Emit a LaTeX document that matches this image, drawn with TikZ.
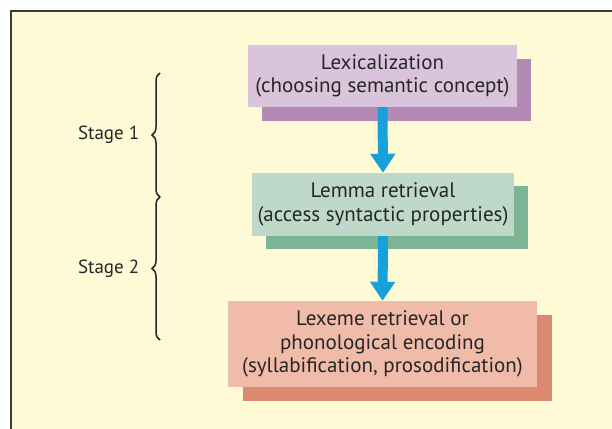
\documentclass[tikz,border=0pt]{standalone}
\usepackage{fontspec}
\setmainfont{PT Sans}
\usetikzlibrary{arrows.meta,shadows,decorations.pathreplacing}

\definecolor{cream}{RGB}{255,250,214}
\definecolor{framegray}{RGB}{60,60,60}
\definecolor{lexfill}{RGB}{218,196,219}
\definecolor{lexshade}{RGB}{178,138,179}
\definecolor{lemfill}{RGB}{190,217,201}
\definecolor{lemshade}{RGB}{125,181,148}
\definecolor{phonfill}{RGB}{241,187,170}
\definecolor{phonshade}{RGB}{221,137,112}
\definecolor{flowblue}{RGB}{24,160,216}

\tikzset{
  stagebox/.style={inner sep=0pt, align=center, font=\fontsize{21}{23.5}\selectfont,
    text=black!85},
  stagelabel/.style={inner sep=0pt, font=\fontsize{19}{22}\selectfont, text=black!85},
  flow/.style={draw=flowblue, line width=10pt,
    -{Triangle[width=24pt,length=19pt]}},
  stagebrace/.style={decorate, decoration={brace,amplitude=8pt}, line width=1.5pt,
    black!85},
}

\begin{document}
\begin{tikzpicture}[x=1pt,y=1pt,yscale=-1]
    \useasboundingbox (0,0) rectangle (612,428);
    % panel
    \draw [line width=2pt, draw=framegray, fill=cream] (11,11) rectangle (640,460);

    % the three levels, each with its offset block behind
    \node [stagebox, fill=lexfill, minimum width=269pt, minimum height=62pt,
      drop shadow={shadow xshift=14pt, shadow yshift=-14pt, fill=lexshade, opacity=1}]
      (lex) at (382.5,76) {Lexicalization\\(choosing semantic concept)};
    \node [stagebox, fill=lemfill, minimum width=262pt, minimum height=63pt,
      drop shadow={shadow xshift=14pt, shadow yshift=-13pt, fill=lemshade, opacity=1}]
      (lemma) at (383,204.5) {Lemma retrieval\\(access syntactic properties)};
    \node [stagebox, fill=phonfill, minimum width=309pt, minimum height=86pt,
      drop shadow={shadow xshift=15pt, shadow yshift=-14pt, fill=phonshade, opacity=1}]
      (lexeme) at (382.5,344) {Lexeme retrieval or\\phonological encoding\\(syllabification, prosodification)};

    \draw [flow] (lex.south) -- (lemma.north);
    \draw [flow] (lemma.south) -- (lexeme.north);

    % braces for the two stages
    \coordinate (b1top) at (160,73);
    \coordinate (bmid) at (160,197);
    \coordinate (b2bot) at (160,340);
    \draw [stagebrace] (bmid) -- (b1top) node [midway, left=20pt, stagelabel] (s1) {Stage 1};
    \draw [stagebrace] (b2bot) -- (bmid) node [midway, left=20pt, stagelabel] (s2) {Stage 2};
\end{tikzpicture}
\end{document}
